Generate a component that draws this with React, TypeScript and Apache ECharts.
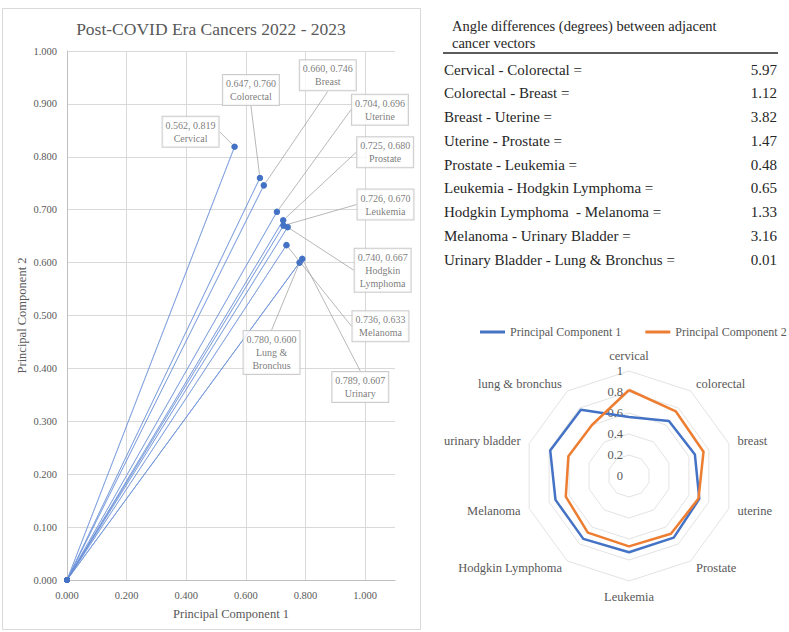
import React, { useEffect, useRef } from 'react';
import * as echarts from 'echarts';

const FONT = '"Liberation Serif", "DejaVu Serif", serif';

// ---- DATA ----
const cancers = ['cervical', 'colorectal', 'breast', 'uterine', 'prostate', 'leukemia', 'hodgkin', 'melanoma', 'urinary', 'lung'];
const pc1 = [0.562, 0.647, 0.66, 0.704, 0.725, 0.726, 0.74, 0.736, 0.789, 0.78];
const pc2 = [0.819, 0.76, 0.746, 0.696, 0.68, 0.67, 0.667, 0.633, 0.607, 0.6];
const pointLabels = ['Cervical', 'Colorectal', 'Breast', 'Uterine', 'Prostate', 'Leukemia', 'Hodgkin\nLymphoma', 'Melanoma', 'Urinary', 'Lung &\nBronchus'];
const radarNames = ['cervical', 'colorectal', 'breast', 'uterine', 'Prostate', 'Leukemia', 'Hodgkin Lymphoma', 'Melanoma', 'urinary bladder', 'lung & bronchus'];
const seriesNames = ['Principal Component 1', 'Principal Component 2'];
const angleLabels = [
  'Cervical - Colorectal =',
  'Colorectal - Breast =',
  'Breast - Uterine =',
  'Uterine - Prostate =',
  'Prostate - Leukemia =',
  'Leukemia - Hodgkin Lymphoma =',
  'Hodgkin Lymphoma  - Melanoma =',
  'Melanoma - Urinary Bladder =',
  'Urinary Bladder - Lung & Bronchus =',
];
const angleValues = ['5.97', '1.12', '3.82', '1.47', '0.48', '0.65', '1.33', '3.16', '0.01'];

// ---- LAYOUT (label offsets from their points, in px) ----
const labelOffsets: [number, number][] = [
  [-44, -15], [-9, -88], [64, -110], [103, -102], [102, -68],
  [102, -21], [95, 43], [94, 81], [58, 128], [-28, 90],
];

const GRAY = '#595959';
const BLUE = '#4472c4';
const ORANGE = '#ed7d31';

export default function App() {
  const ref = useRef<HTMLDivElement>(null);
  useEffect(() => {
    document.body.style.margin = '0';
    const chart = echarts.init(ref.current!, null, { renderer: 'svg' });

    const vectorData: number[][] = [];
    pc1.forEach((x, i) => {
      vectorData.push([0, 0]);
      vectorData.push([x, pc2[i]]);
    });

    const pointData = pc1.map((x, i) => ({
      value: [x, pc2[i]],
      name: pointLabels[i],
    }));

    // ECharts radar runs counter-clockwise; reverse the order after the first axis
    const order = [0, ...cancers.map((_, i) => i).slice(1).reverse()];

    const tableGraphics: any[] = [];
    angleLabels.forEach((t, i) => {
      const y = 69.5 + i * 23.75;
      tableGraphics.push({
        type: 'text', x: 444, y,
        style: { text: t, fontFamily: FONT, fontSize: 15, fill: '#262626', textVerticalAlign: 'middle' },
      });
      tableGraphics.push({
        type: 'text', x: 777, y,
        style: { text: angleValues[i], fontFamily: FONT, fontSize: 15, fill: '#262626', textAlign: 'right', textVerticalAlign: 'middle' },
      });
    });

    const option: any = {
      animation: false,
      textStyle: { fontFamily: FONT },
      graphic: [
        {
          type: 'rect',
          shape: { x: 2.5, y: 8.5, width: 418, height: 621 },
          style: { fill: 'none', stroke: '#d9d9d9', lineWidth: 1 },
        },
        {
          type: 'text', x: 211, y: 29,
          style: { text: 'Post-COVID Era Cancers 2022 - 2023', fontFamily: FONT, fontSize: 17.5, fill: GRAY, textAlign: 'center', textVerticalAlign: 'middle' },
        },
        {
          type: 'text', x: 452, y: 17,
          style: { text: 'Angle differences (degrees) between adjacent\ncancer vectors', fontFamily: FONT, fontSize: 14.5, lineHeight: 17, fill: '#262626', textVerticalAlign: 'top' },
        },
        {
          type: 'line',
          shape: { x1: 443, y1: 53, x2: 778, y2: 53 },
          style: { stroke: '#262626', lineWidth: 1.5 },
        },
        ...tableGraphics,
      ],
      grid: { left: 67, top: 51, width: 328, height: 529 },
      xAxis: {
        type: 'value', min: 0, max: 1.1, interval: 0.2,
        name: 'Principal Component 1', nameLocation: 'middle', nameGap: 27,
        nameTextStyle: { color: GRAY, fontSize: 12.5, fontFamily: FONT },
        axisLine: { show: true, lineStyle: { color: '#bfbfbf' } },
        axisTick: { show: false },
        axisLabel: {
          color: GRAY, fontSize: 10.5, fontFamily: FONT, margin: 10,
          formatter: (v: number) => (v > 1.05 ? '' : v.toFixed(3)),
        },
        splitLine: { show: true, showMaxLine: false, lineStyle: { color: '#d9d9d9' } },
      },
      yAxis: {
        type: 'value', min: 0, max: 1, interval: 0.1,
        name: 'Principal Component 2', nameLocation: 'middle', nameGap: 39,
        nameTextStyle: { color: GRAY, fontSize: 12.5, fontFamily: FONT },
        axisLine: { show: true, lineStyle: { color: '#bfbfbf' } },
        axisTick: { show: false },
        axisLabel: {
          color: GRAY, fontSize: 10.5, fontFamily: FONT, margin: 10,
          formatter: (v: number) => v.toFixed(3),
        },
        splitLine: { show: true, lineStyle: { color: '#d9d9d9' } },
      },
      legend: {
        data: seriesNames,
        orient: 'horizontal',
        left: 480, top: 326, width: 309, padding: 0,
        icon: 'rect', itemWidth: 25, itemHeight: 3, itemGap: 24,
        textStyle: { color: GRAY, fontSize: 12, fontFamily: FONT },
      },
      radar: {
        center: [629, 476],
        radius: 105,
        startAngle: 90,
        shape: 'polygon',
        splitNumber: 5,
        nameGap: 9,
        axisName: { color: GRAY, fontSize: 12.5, fontFamily: FONT },
        splitLine: { lineStyle: { color: '#e3e3e3', width: 1 } },
        splitArea: { show: false },
        axisLine: { show: false },
        axisTick: { show: false },
        indicator: order.map((k, j) => {
          const ind: any = { name: radarNames[k], min: 0, max: 1 };
          if (j === 0) {
            ind.axisLabel = { show: true, color: GRAY, fontSize: 12.5, fontFamily: FONT, margin: 6, showMinLabel: true, showMaxLabel: true };
          }
          return ind;
        }),
      },
      series: [
        {
          type: 'line',
          data: vectorData,
          showSymbol: true,
          symbol: 'circle',
          symbolSize: 6,
          itemStyle: { color: BLUE },
          lineStyle: { color: '#6a90d6', width: 0.6 },
          z: 2,
          silent: true,
        },
        {
          type: 'scatter',
          data: pointData,
          symbolSize: 6.5,
          itemStyle: { color: BLUE },
          z: 3,
          label: {
            show: true,
            position: 'inside',
            formatter: (p: any) => `${p.value[0].toFixed(3)}, ${p.value[1].toFixed(3)}\n${p.name}`,
            color: GRAY,
            fontSize: 10,
            lineHeight: 13,
            fontFamily: FONT,
            align: 'center',
            backgroundColor: '#ffffff',
            borderColor: '#bfbfbf',
            borderWidth: 1,
            padding: [2, 3],
          },
          labelLine: { show: true, lineStyle: { color: '#a6a6a6', width: 0.8 } },
          labelLayout: (p: any) => ({ dx: labelOffsets[p.dataIndex][0], dy: labelOffsets[p.dataIndex][1] }),
        },
        {
          type: 'radar',
          symbol: 'none',
          data: [
            { name: seriesNames[0], value: order.map((k) => pc1[k]), lineStyle: { color: BLUE, width: 2.5 }, itemStyle: { color: BLUE } },
            { name: seriesNames[1], value: order.map((k) => pc2[k]), lineStyle: { color: ORANGE, width: 2.5 }, itemStyle: { color: ORANGE } },
          ],
        },
      ],
    };
    chart.setOption(option);
    return () => chart.dispose();
  }, []);
  return <div ref={ref} style={{ width: 789, height: 632 }} />;
}
